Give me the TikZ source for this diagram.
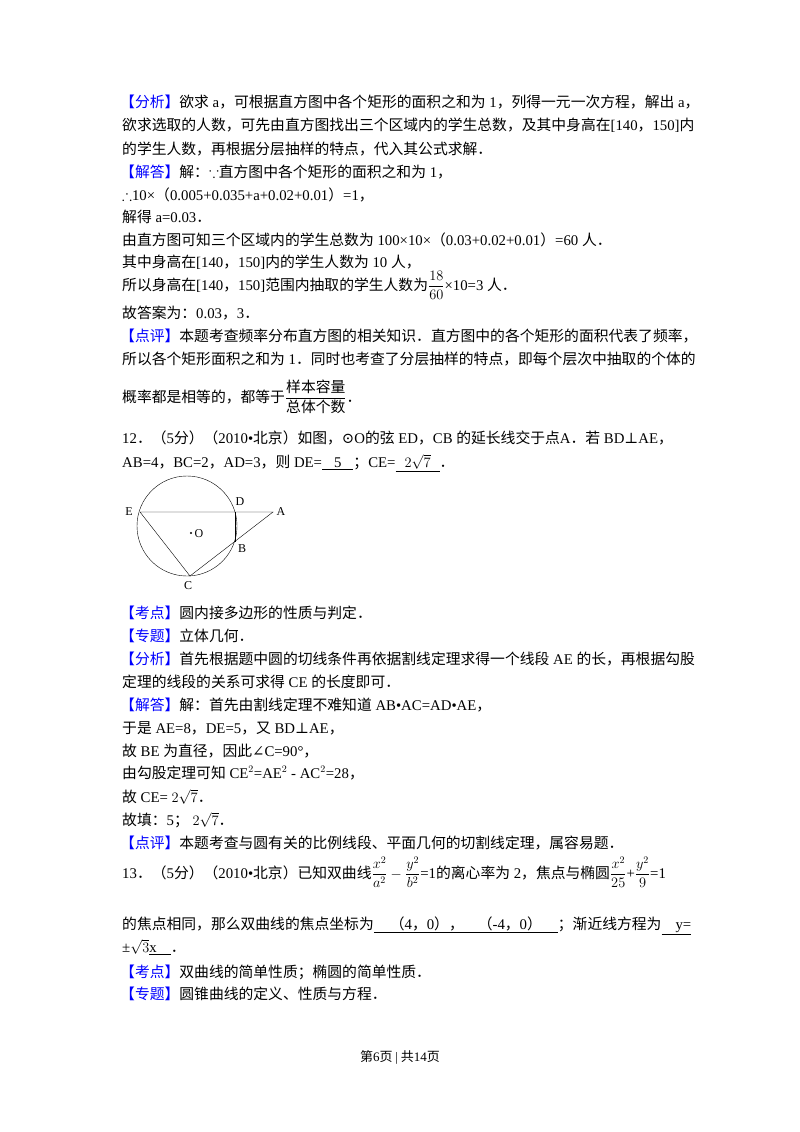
\documentclass[tikz,border=0pt]{standalone}
\usepackage{amssymb,amsmath}
\usepackage{fontspec}
\setmainfont{Noto Sans CJK SC}
\newfontfamily\tm{Liberation Serif}
\newfontfamily\dvs{DejaVu Serif}
\newcommand{\lab}[1]{{\color{blue}【#1】}}
\newcommand{\T}[1]{{\tm #1}}
\begin{document}
\begin{tikzpicture}[x=1pt,y=-1pt,
  tx/.style={anchor=base west,inner sep=0pt,font=\fontsize{14.8}{18}\selectfont},
  pl/.style={font=\tm\fontsize{12}{14}\selectfont,inner sep=1pt}]
\useasboundingbox[fill=white] (0,0) rectangle (800,1132);
\node[tx] (l1) at (120,107) {\lab{分析}欲求\T{ a}，可根据直方图中各个矩形的面积之和为\T{ 1}，列得一元一次方程，解出\T{ a}，};
\node[tx] (l2) at (122,130) {欲求选取的人数，可先由直方图找出三个区域内的学生总数，及其中身高在\T{[140}，\T{150]}内};
\node[tx] (l3) at (122,154) {的学生人数，再根据分层抽样的特点，代入其公式求解．};
\node[tx] (l4) at (120,177) {\lab{解答}解：$\because$直方图中各个矩形的面积之和为\T{ 1}，};
\node[tx] (l5) at (122,200) {$\therefore$\T{10×}（\T{0.005+0.035+a+0.02+0.01}）\T{=1}，};
\node[tx] (l6) at (122,222) {解得\T{ a=0.03}．};
\node[tx] (l7) at (122,245) {由直方图可知三个区域内的学生总数为\T{ 100×10×}（\T{0.03+0.02+0.01}）\T{=60 }人．};
\node[tx] (l8) at (122,267) {其中身高在\T{[140}，\T{150]}内的学生人数为\T{ 10 }人，};
\node[tx] (l9) at (122,290) {所以身高在\T{[140}，\T{150]}范围内抽取的学生人数为\T{$\dfrac{18}{60}$×10=3 }人．};
\node[tx] (l10) at (122,318) {故答案为：\T{0.03}，\T{3}．};
\node[tx] (l11) at (120,341) {\lab{点评}本题考查频率分布直方图的相关知识．直方图中的各个矩形的面积代表了频率，};
\node[tx] (l12) at (122,364) {所以各个矩形面积之和为\T{ 1}．同时也考查了分层抽样的特点，即每个层次中抽取的个体的};
\node[tx] (l13) at (122,402) {概率都是相等的，都等于$\dfrac{\hbox{样本容量}}{\hbox{总体个数}}$．};
\node[tx] (m1) at (122,443) {\T{12}．（\T{5}分）（\T{2010•}北京）如图，{\dvs ⊙}\T{O}的弦\T{ ED}，\T{CB }的延长线交于点\T{A}．若\T{ BD}{\dvs ⊥}\T{AE}，};
\node[tx] (m2) at (122,467) {\T{AB=4}，\T{BC=2}，\T{AD=3}，则\T{ DE=\underline{\hspace{12pt}5\hspace{12pt}}}；\T{CE=\underline{\hspace{9pt}$2\sqrt{7}$\hspace{9pt}}}．};
% figure
\coordinate (O) at (187,526);
\draw[thin] (O) circle (50);
\coordinate (E) at (140,512);
\coordinate (D) at (235,512);
\coordinate (A) at (273,512);
\coordinate (B) at (235,542);
\coordinate (C) at (190,576);
\draw[thin] (E) -- (A) -- (C) -- (E);
\draw[thin] (D) -- (B);
\fill (191,533) circle (1.1);
\node[pl] (lo) at (199,534) {O};
\node[pl] (le) at (129,512) {E};
\node[pl] (ld) at (240,502) {D};
\node[pl] (la) at (281,512) {A};
\node[pl] (lb) at (242,549) {B};
\node[pl] (lc) at (188,586) {C};
\node[tx] (k1) at (120,618) {\lab{考点}圆内接多边形的性质与判定．};
\node[tx] (k2) at (120,641) {\lab{专题}立体几何．};
\node[tx] (k3) at (120,664) {\lab{分析}首先根据题中圆的切线条件再依据割线定理求得一个线段\T{ AE }的长，再根据勾股};
\node[tx] (k4) at (122,687) {定理的线段的关系可求得\T{ CE }的长度即可．};
\node[tx] (k5) at (120,710) {\lab{解答}解：首先由割线定理不难知道\T{ AB•AC=AD•AE}，};
\node[tx] (k6) at (122,733) {于是\T{ AE=8}，\T{DE=5}，又\T{ BD}{\dvs ⊥}\T{AE}，};
\node[tx] (k7) at (122,756) {故\T{ BE }为直径，因此{\dvs ∠}\T{C=90°}，};
\node[tx] (k8) at (122,778) {由勾股定理可知\T{ CE$^2$=AE$^2$ - AC$^2$=28}，};
\node[tx] (k9) at (122,802) {故\T{ CE= $2\sqrt{7}$}．};
\node[tx] (k10) at (122,825) {故填：\T{5}；\T{ $2\sqrt{7}$}．};
\node[tx] (k11) at (120,848) {\lab{点评}本题考查与圆有关的比例线段、平面几何的切割线定理，属容易题．};
\node[tx] (n1) at (122,878) {\T{13}．（\T{5}分）（\T{2010•}北京）已知双曲线\T{$\dfrac{x^2}{a^2}-\dfrac{y^2}{b^2}$=1}的离心率为\T{ 2}，焦点与椭圆\T{$\dfrac{x^2}{25}$+$\dfrac{y^2}{9}$=1}};
\node[tx] (n2) at (122,929) {的焦点相同，那么双曲线的焦点坐标为\underline{\hspace{16pt}（\T{4}，\T{0}），\hspace{14pt}（\T{-4}，\T{0}）\hspace{16pt}}；渐近线方程为\T{\underline{\hspace{14pt}y=}}};
\node[tx] (n3) at (122,952) {\T{±$\sqrt{3}$\underline{x\hspace{14pt}}}．};
\node[tx] (n4) at (120,977) {\lab{考点}双曲线的简单性质；椭圆的简单性质．};
\node[tx] (n5) at (120,999) {\lab{专题}圆锥曲线的定义、性质与方程．};
\node[font=\fontsize{13}{16}\selectfont] (ft) at (400,1057) {第\T{6}页 \T{|} 共\T{14}页};
\end{tikzpicture}
\end{document}
